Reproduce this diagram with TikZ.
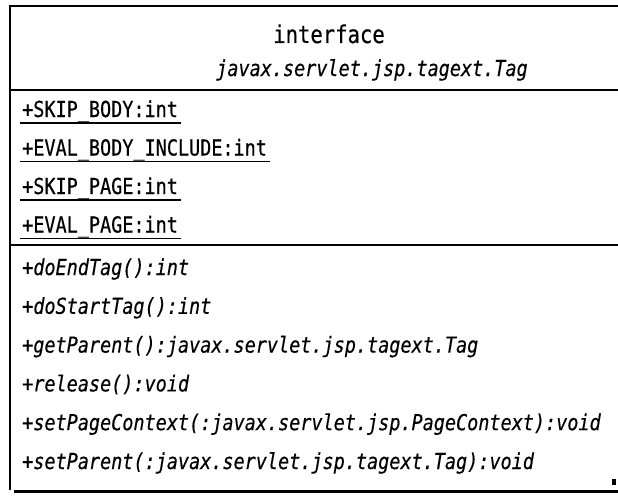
\documentclass[tikz,border=0pt]{standalone}
\usepackage{fontspec}
\setmonofont[FakeStretch=0.84,FakeBold=0.4]{DejaVu Sans Mono}
\begin{document}
\begin{tikzpicture}[x=1pt,y=-1pt,
  txt/.style={inner sep=0pt,anchor=base west,font=\ttfamily\fontsize{22}{23}\selectfont},
  itxt/.style={txt,font=\ttfamily\itshape\fontsize{22}{23}\selectfont},
  ctxt/.style={txt,anchor=base},
  border/.style={line width=2pt},
  uline/.style={line width=1.4pt}]
\useasboundingbox (0,0) rectangle (618,495);
% frame
\coordinate (tl) at (9.5,6);
\coordinate (tr) at (618,6);
\coordinate (bl) at (9.5,490);
\draw[border] (bl) -- (tl) -- (tr);
\coordinate (d1l) at (9.5,90); \coordinate (d1r) at (618,90);
\coordinate (d2l) at (9.5,245); \coordinate (d2r) at (618,245);
\draw[border] (d1l) -- (d1r);
\draw[border] (d2l) -- (d2r);
\coordinate (sl) at (14,491.5); \coordinate (sr) at (618,491.5);
\draw[line width=3pt] (sl) -- (sr);
\fill (612,479) rectangle (616,485);
% header
\node[ctxt,font=\ttfamily\fontsize{24.5}{25}\selectfont] (st) at (329,43) {interface};
\node[ctxt,font=\ttfamily\itshape\fontsize{22}{23}\selectfont] (nm) at (372,76) {javax.servlet.jsp.tagext.Tag};
% attributes
\node[txt] (a1) at (22,117) {+SKIP\_BODY:int};
\node[txt] (a2) at (22,155.5) {+EVAL\_BODY\_INCLUDE:int};
\node[txt] (a3) at (22,194) {+SKIP\_PAGE:int};
\node[txt] (a4) at (22,232.5) {+EVAL\_PAGE:int};
\foreach \a in {a1,a2,a3,a4}
  \draw[uline] ([xshift=-2pt,yshift=-6pt]\a.base west) -- ([xshift=3pt,yshift=-6pt]\a.base east);
% methods
\node[itxt] (m1) at (22,275) {+doEndTag():int};
\node[itxt] (m2) at (22,313.8) {+doStartTag():int};
\node[itxt] (m3) at (22,352.6) {+getParent():javax.servlet.jsp.tagext.Tag};
\node[itxt] (m4) at (22,391.4) {+release():void};
\node[itxt] (m5) at (22,430.2) {+setPageContext(:javax.servlet.jsp.PageContext):void};
\node[itxt] (m6) at (22,469) {+setParent(:javax.servlet.jsp.tagext.Tag):void};
\end{tikzpicture}
\end{document}
